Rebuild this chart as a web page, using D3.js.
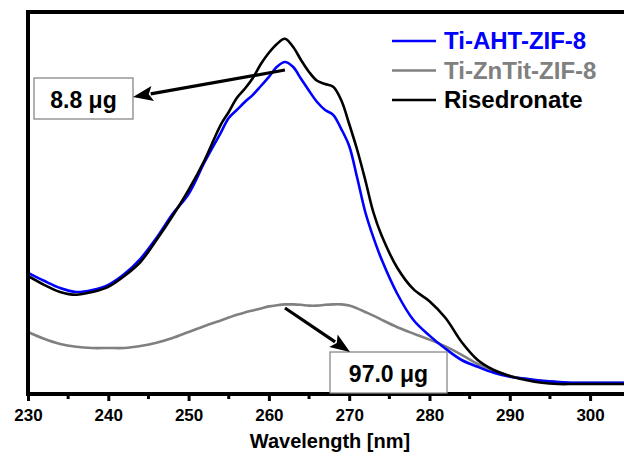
<!DOCTYPE html>
<html>
<head>
<meta charset="utf-8">
<script src="https://cdn.jsdelivr.net/npm/d3@7"></script>
<style>
  html, body { margin: 0; padding: 0; background: #fff; }
  svg { display: block; }
  text { font-family: "Liberation Sans", Arial, Helvetica, sans-serif; font-weight: bold; }
</style>
</head>
<body>
<svg id="chart" width="624" height="462"></svg>
<script>
// UV-Vis absorbance spectra (wavelength in nm, absorbance in a.u.)
const wavelengths = [230,232,234,236,238,240,242,244,246,248,250,252,254,255,256,257,258,259,260,261,262,263,264,265,266,267,268,269,270,271,272,273,274,276,278,280,282,284,286,288,290,292,294,296,298,300,302,304,306];

const tiAHT = [0.303,0.283,0.265,0.255,0.260,0.273,0.300,0.338,0.390,0.450,0.500,0.580,0.653,0.690,0.710,0.730,0.748,0.770,0.793,0.818,0.830,0.818,0.788,0.758,0.730,0.710,0.698,0.663,0.620,0.540,0.455,0.392,0.338,0.250,0.185,0.146,0.113,0.085,0.068,0.053,0.043,0.038,0.033,0.030,0.028,0.028,0.028,0.028,0.028];

const tiZnTit = [0.155,0.138,0.125,0.118,0.115,0.115,0.115,0.120,0.128,0.140,0.155,0.170,0.184,0.191,0.198,0.204,0.209,0.214,0.219,0.222,0.224,0.224,0.223,0.221,0.221,0.223,0.224,0.224,0.221,0.214,0.205,0.196,0.186,0.167,0.151,0.136,0.119,0.098,0.075,0.058,0.045,0.038,0.033,0.030,0.028,0.028,0.028,0.028,0.028];

const risedronate = [0.295,0.273,0.255,0.248,0.255,0.268,0.295,0.330,0.385,0.445,0.510,0.585,0.673,0.705,0.740,0.763,0.790,0.825,0.853,0.875,0.888,0.868,0.835,0.805,0.783,0.775,0.768,0.735,0.675,0.610,0.535,0.455,0.398,0.315,0.262,0.232,0.190,0.130,0.085,0.060,0.045,0.035,0.028,0.025,0.025,0.025,0.025,0.025,0.025];

const seriesNames = ["Ti-AHT-ZIF-8", "Ti-ZnTit-ZIF-8", "Risedronate"];
const seriesColors = ["#0000ff", "#808080", "#000000"];
const seriesValues = [tiAHT, tiZnTit, risedronate];

const majorTicks = [230,240,250,260,270,280,290,300];
const minorTicks = [235,245,255,265,275,285,295,305];

const annotationLabels = ["8.8 \u03bcg", "97.0 \u03bcg"];
// arrow tails sit on the peak region of each curve (wavelength, absorbance)
const annotationTails = [[262, 0.81], [262, 0.215]];

const svg = d3.select("#chart");
const plotLeft = 28, plotTop = 12, plotBottom = 394;

const x = d3.scaleLinear().domain([230, 305]).range([plotLeft, plotLeft + 75 * 8.03]);
const y = d3.scaleLinear().domain([0, 0.955]).range([plotBottom, plotTop]);

svg.append("defs").append("clipPath").attr("id", "plotclip")
  .append("rect").attr("x", plotLeft).attr("y", plotTop).attr("width", 700).attr("height", plotBottom - plotTop);

// spectra
const line = d3.line()
  .x(d => x(d[0]))
  .y(d => y(d[1]))
  .curve(d3.curveCatmullRom.alpha(0.5));

const plot = svg.append("g").attr("clip-path", "url(#plotclip)");
// grey first, then blue, then black on top
[1, 0, 2].forEach(i => {
  plot.append("path")
    .datum(wavelengths.map((w, k) => [w, seriesValues[i][k]]))
    .attr("fill", "none")
    .attr("stroke", seriesColors[i])
    .attr("stroke-width", 2.6)
    .attr("stroke-linejoin", "round")
    .attr("d", line);
});

// frame: left and top borders
svg.append("line").attr("x1", plotLeft).attr("x2", plotLeft).attr("y1", plotTop - 2).attr("y2", plotBottom)
  .attr("stroke", "#000").attr("stroke-width", 4);
svg.append("line").attr("x1", plotLeft - 2).attr("x2", 640).attr("y1", plotTop).attr("y2", plotTop)
  .attr("stroke", "#000").attr("stroke-width", 4);

// x axis
const xAxis = d3.axisBottom(x).tickValues(majorTicks).tickSize(7).tickSizeOuter(0).tickPadding(8);
const gx = svg.append("g").attr("transform", `translate(0,${plotBottom})`).call(xAxis);
gx.select(".domain").attr("stroke", "#000").attr("stroke-width", 4)
  .attr("d", `M${plotLeft - 2},0H640`);
gx.selectAll(".tick line").attr("stroke", "#000").attr("stroke-width", 3);
gx.selectAll(".tick text").attr("font-size", 17).attr("font-weight", "bold")
  .attr("fill", "#000").attr("font-family", "Liberation Sans, Arial, sans-serif");

gx.selectAll(".minor").data(minorTicks).enter().append("line")
  .attr("class", "minor")
  .attr("x1", d => x(d)).attr("x2", d => x(d))
  .attr("y1", 0).attr("y2", 5)
  .attr("stroke", "#000").attr("stroke-width", 3);

svg.append("text")
  .attr("x", 330).attr("y", 448)
  .attr("text-anchor", "middle")
  .attr("font-size", 20)
  .text("Wavelength [nm]");

// legend
const legend = svg.append("g");
seriesNames.forEach((name, i) => {
  const ly = 41 + i * 29.5;
  legend.append("line").attr("x1", 392).attr("x2", 436).attr("y1", ly).attr("y2", ly)
    .attr("stroke", seriesColors[i]).attr("stroke-width", 2.6);
  legend.append("text").attr("x", 444).attr("y", ly + 8)
    .attr("font-size", 24).attr("fill", seriesColors[i]).text(name);
});

// annotation boxes with arrows
const boxes = [
  { x: 34, y: 78, w: 99, h: 41, tip: [133, 97] },
  { x: 330, y: 352, w: 117, h: 41, tip: [350, 352] }
];

function arrow(from, to) {
  const dx = to[0] - from[0], dy = to[1] - from[1];
  const len = Math.hypot(dx, dy);
  const ux = dx / len, uy = dy / len;
  const headLen = 20, headW = 7.5;
  const bx = to[0] - ux * headLen, by = to[1] - uy * headLen;
  svg.append("line").attr("x1", from[0]).attr("y1", from[1]).attr("x2", bx + ux * 2).attr("y2", by + uy * 2)
    .attr("stroke", "#000").attr("stroke-width", 3.2);
  svg.append("path")
    .attr("d", `M${to[0]},${to[1]}L${bx - uy * headW},${by + ux * headW}L${bx + ux * 4},${by + uy * 4}L${bx + uy * headW},${by - ux * headW}Z`)
    .attr("fill", "#000");
}

boxes.forEach((b, i) => {
  svg.append("rect").attr("x", b.x).attr("y", b.y).attr("width", b.w).attr("height", b.h)
    .attr("fill", "#fff").attr("stroke", "#888").attr("stroke-width", 1.3);
  svg.append("text").attr("x", b.x + b.w / 2).attr("y", b.y + 30)
    .attr("text-anchor", "middle").attr("font-size", 23).attr("fill", "#000")
    .text(annotationLabels[i]);
  const t = annotationTails[i];
  arrow([x(t[0]), y(t[1])], b.tip);
});
</script>
</body>
</html>
